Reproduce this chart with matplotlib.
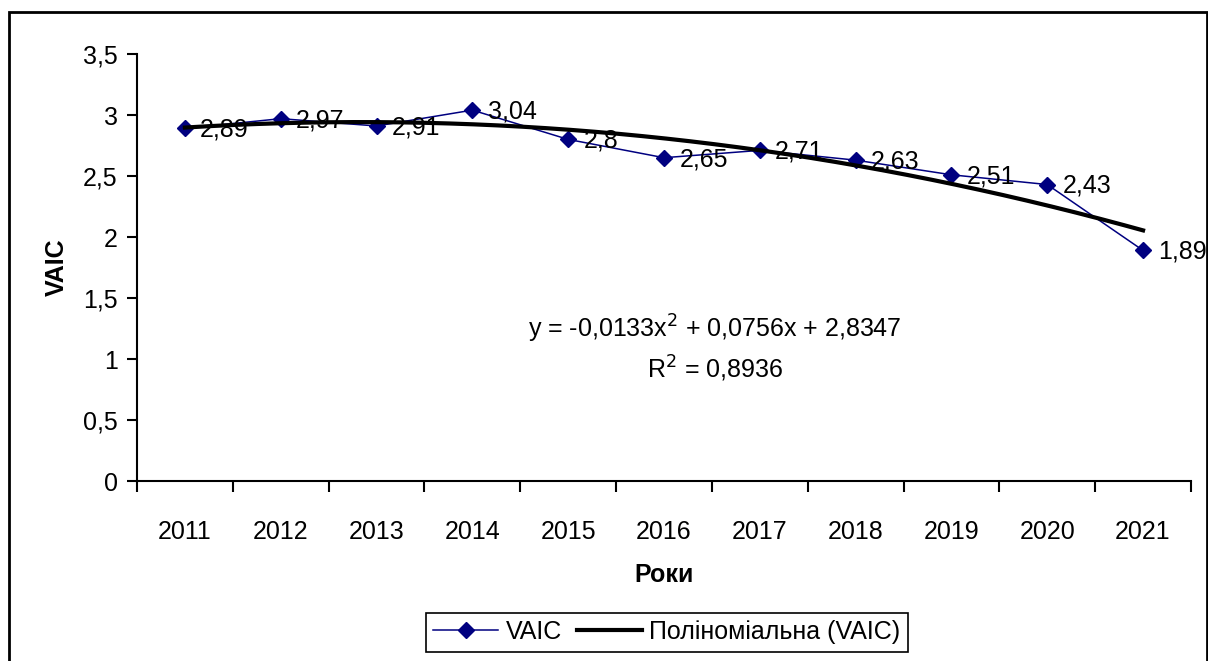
import matplotlib
matplotlib.use("Agg")
import matplotlib.pyplot as plt
from matplotlib.patches import Rectangle
import numpy as np

plt.rcParams['font.family'] = ['Liberation Sans', 'DejaVu Sans']

years = ['2011', '2012', '2013', '2014', '2015', '2016', '2017', '2018', '2019', '2020', '2021']
vaic = [2.89, 2.97, 2.91, 3.04, 2.8, 2.65, 2.71, 2.63, 2.51, 2.43, 1.89]
y_ticks = [0, 0.5, 1, 1.5, 2, 2.5, 3, 3.5]

FS = 18

fig = plt.figure(figsize=(12.08, 6.61), dpi=100)
ax = fig.add_axes([0.1134, 0.2723, 0.8725, 0.646])

x = np.arange(len(years))
ax.plot(x, vaic, color='#000080', lw=1.1, marker='D', ms=8, label='VAIC')

# polynomial trendline (2nd order) fitted on x = 1..n as Excel does
coef = np.polyfit(x + 1, vaic, 2)
xs = np.linspace(1, len(years), 200)
ax.plot(xs - 1, np.polyval(coef, xs), color='black', lw=3, label='Поліноміальна (VAIC)')

for xi, v in zip(x, vaic):
    ax.annotate(str(v).replace('.', ','), (xi, v), xytext=(11, -1), textcoords='offset points',
                va='center', ha='left', fontsize=FS)

ax.text(0.548, 0.356, 'y = -0,0133x$^2$ + 0,0756x + 2,8347', transform=ax.transAxes,
        ha='center', va='center', fontsize=FS)
ax.text(0.548, 0.262, 'R$^2$ = 0,8936', transform=ax.transAxes,
        ha='center', va='center', fontsize=FS)

ax.set_xlim(-0.5, len(years) - 0.5)
ax.set_ylim(0, 3.5)
ax.set_yticks(y_ticks)
ax.set_yticklabels([str(t).replace('.', ',').replace(',0', '') if t != 0 else '0' for t in y_ticks])
ax.set_xticks(x)
ax.set_xticklabels(years)
ax.set_xticks(np.arange(-0.5, len(years)), minor=True)
ax.tick_params(axis='x', which='major', length=0, pad=28, labelsize=FS)
ax.tick_params(axis='x', which='minor', length=8, width=1.5, direction='out')
ax.tick_params(axis='y', length=7, width=1.5, pad=7, labelsize=FS)

ax.spines['top'].set_visible(False)
ax.spines['right'].set_visible(False)
ax.spines['left'].set_linewidth(1.5)
ax.spines['bottom'].set_linewidth(1.5)

ax.set_ylabel('VAIC', fontsize=FS, fontweight='bold', labelpad=10)
ax.set_xlabel('Роки', fontsize=FS, fontweight='bold', labelpad=14)

leg = fig.legend(loc='center', bbox_to_anchor=(0.552, 1 - 632 / 661), ncol=2, fontsize=FS,
                 frameon=True, fancybox=False, edgecolor='black', framealpha=1,
                 handlelength=2.6, handletextpad=0.3, columnspacing=0.6, borderpad=0.3)
leg.get_frame().set_linewidth(1.2)

fig.patches.append(Rectangle((9 / 1208, -0.02), 1198 / 1208, 1.02 - 12 / 661,
                             transform=fig.transFigure, fill=False, edgecolor='black', lw=2))

fig.savefig('out.png', dpi=100)
